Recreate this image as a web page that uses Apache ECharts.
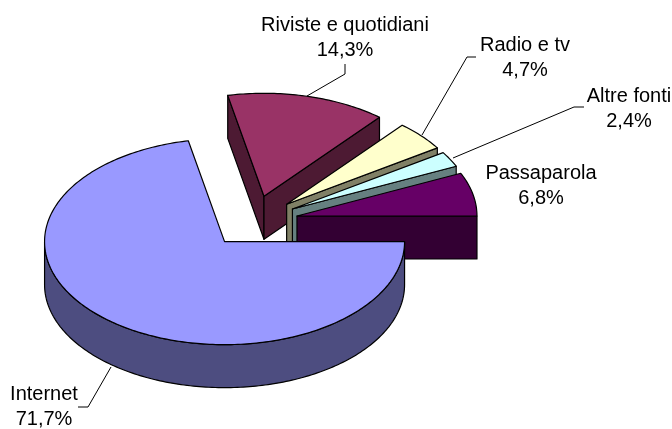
<!DOCTYPE html>
<html><head><meta charset="utf-8">
<style>html,body{margin:0;padding:0;background:#fff}#c{width:672px;height:429px}</style>
<script src="https://cdn.jsdelivr.net/npm/echarts@6/dist/echarts.min.js"></script>
</head><body><div id="c"></div>
<script>
// Data, in drawing order counter-clockwise from the 3 o'clock direction
const categories = ['Passaparola', 'Altre fonti', 'Radio e tv', 'Riviste e quotidiani', 'Internet'];
const values = [6.8, 2.4, 4.7, 14.3, 71.7];
const percentLabels = ['6,8%', '2,4%', '4,7%', '14,3%', '71,7%'];
const topColors = ['#660066', '#CCFFFF', '#FFFFCC', '#993366', '#9999FF'];
const sideColors = ['#330033', '#668080', '#808066', '#4D1A33', '#4D4D80'];

// Layout (pixels)
const CX = 253, CY = 221.5, RX = 180, RY = 103, DEPTH = 43, EX = 45, EY = 26;
const labelAnchors = [[541,186],[629,109],[525,58],[345,38],[44,407]];
const leaders = [
  null,
  [[584,107],[574,107],[453,158]],
  [[476,57],[467,57],[422,135]],
  [[345,64],[345,74],[307,96]],
  [[78,407],[88,407],[111,367]]
];
const FONT = 20, LH = 25;
const EDGE = '#000';

const total = values.reduce((a,b)=>a+b,0);
let acc = 0;
const slices = values.map(v => {
  const a = acc / total * 360; acc += v;
  return {a, b: acc / total * 360};
});
const rad = d => d * Math.PI / 180;

function sliceChildren(i) {
  const {a, b} = slices[i];
  const mid = (a + b) / 2;
  const ax = CX + EX * Math.cos(rad(mid)), ay = CY - EY * Math.sin(rad(mid));
  const pt = (t, dz = 0) => [ax + RX * Math.cos(rad(t)), ay - RY * Math.sin(rad(t)) + dz];
  const style = (fill) => ({fill, stroke: EDGE, lineWidth: 1.2, lineJoin: 'round'});
  const out = [];
  const poly = (points, fill) => out.push({type:'polygon', shape:{points}, style: style(fill)});
  // cut faces
  if (Math.cos(rad(b)) < 0) poly([[ax,ay],pt(b),pt(b,DEPTH),[ax,ay+DEPTH]], sideColors[i]);
  if (Math.cos(rad(a)) > 0) poly([[ax,ay],pt(a),pt(a,DEPTH),[ax,ay+DEPTH]], sideColors[i]);
  // outer wall, front half only
  const w0 = Math.max(a, 180), w1 = Math.min(b, 360);
  if (w1 > w0) {
    const up = [], down = [];
    for (let t = w0; t <= w1 + 1e-6; t += 1) { up.push(pt(t)); down.unshift(pt(t, DEPTH)); }
    poly(up.concat(down), sideColors[i]);
  }
  // top face
  const top = [[ax,ay]];
  const n = Math.ceil(b - a);
  for (let k = 0; k <= n; k++) top.push(pt(a + (b - a) * k / n));
  poly(top, topColors[i]);
  return out;
}

// back-to-front painting order
const order = [3, 2, 1, 0, 4];
const chart = echarts.init(document.getElementById('c'), null, {renderer:'canvas'});
chart.setOption({
  animation:false,
  backgroundColor:'#fff',
  series:[{
    type:'custom',
    coordinateSystem:'none',
    silent:true,
    data: order,
    renderItem:(params, api) => ({type:'group', children: sliceChildren(api.value(0))}),
  },{
    type:'custom',
    coordinateSystem:'none',
    silent:true,
    z:5,
    data: categories.map((c,i)=>i),
    renderItem:(params, api) => {
      const i = api.value(0);
      const kids = [];
      if (leaders[i]) kids.push({type:'polyline', shape:{points:leaders[i]}, style:{fill:'none', stroke:'#000', lineWidth:1}});
      kids.push({type:'text', x: labelAnchors[i][0], y: labelAnchors[i][1],
        style:{text: categories[i] + '\n' + percentLabels[i], fill:'#000', font: FONT + 'px "Liberation Sans"', align:'center', verticalAlign:'middle', lineHeight: LH}});
      return {type:'group', children:kids};
    }
  }]
});
</script></body></html>
